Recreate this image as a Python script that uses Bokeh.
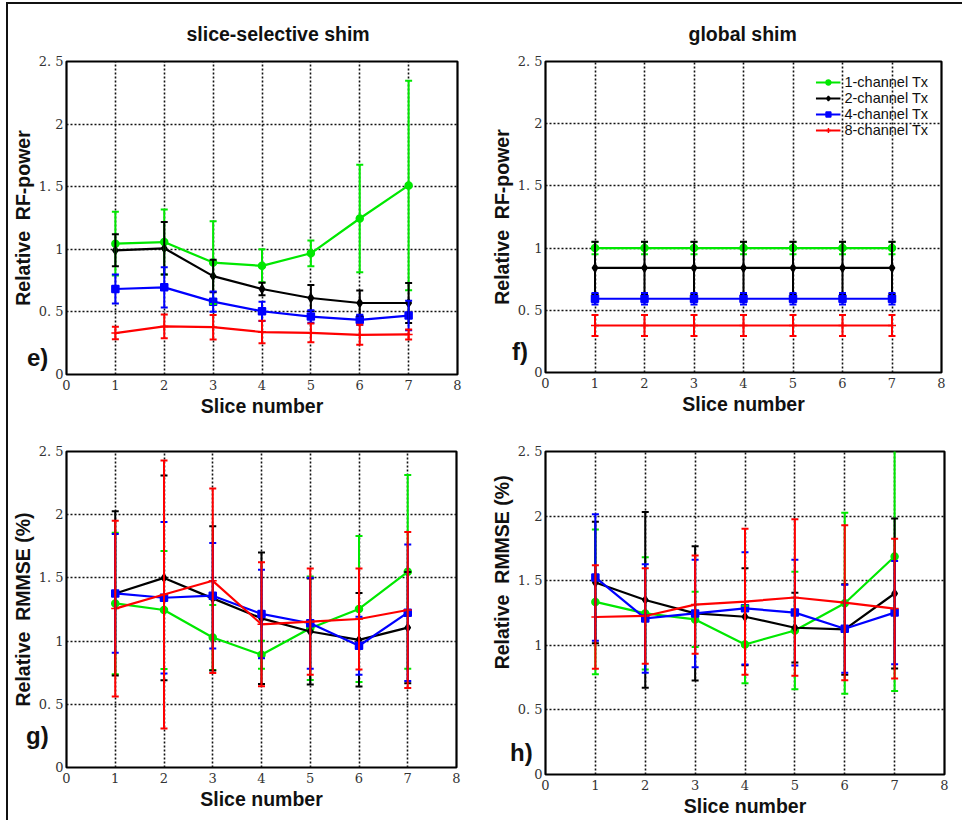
import numpy as np
from bokeh.plotting import figure
from bokeh.models import (ColumnDataSource, Whisker, TeeHead, FixedTicker,
                          Legend, LegendItem, Range1d, Div)
from bokeh.layouts import column, row
from bokeh.embed import file_html
from bokeh.resources import INLINE

# ---------------- data ----------------
slices = [1, 2, 3, 4, 5, 6, 7]
channels = ["1-channel Tx", "2-channel Tx", "4-channel Tx", "8-channel Tx"]
x_ticks = [0, 1, 2, 3, 4, 5, 6, 7, 8]
y_ticks = [0, 0.5, 1, 1.5, 2, 2.5]
y_tick_labels = ["0", "0. 5", "1", "1. 5", "2", "2. 5"]

# e) slice-selective shim, relative RF power
e_mean_1ch = [1.045, 1.058, 0.894, 0.868, 0.968, 1.246, 1.510]
e_err_1ch = [0.255, 0.260, 0.330, 0.132, 0.103, 0.430, 0.837]
e_mean_2ch = [0.992, 1.008, 0.786, 0.683, 0.611, 0.571, 0.571]
e_err_2ch = [0.128, 0.210, 0.130, 0.050, 0.103, 0.100, 0.160]
e_mean_4ch = [0.683, 0.696, 0.582, 0.505, 0.463, 0.437, 0.471]
e_err_4ch = [0.115, 0.160, 0.080, 0.077, 0.050, 0.040, 0.118]
e_mean_8ch = [0.331, 0.384, 0.378, 0.339, 0.333, 0.317, 0.320]
e_err_8ch = [0.050, 0.095, 0.098, 0.090, 0.075, 0.080, 0.040]

# f) global shim, relative RF power
f_mean_1ch = [1.0, 1.0, 1.0, 1.0, 1.0, 1.0, 1.0]
f_err_1ch = [0.05, 0.05, 0.05, 0.05, 0.05, 0.05, 0.05]
f_mean_2ch = [0.841, 0.841, 0.841, 0.841, 0.841, 0.841, 0.841]
f_err_2ch = [0.21, 0.21, 0.21, 0.21, 0.21, 0.21, 0.21]
f_mean_4ch = [0.593, 0.593, 0.593, 0.593, 0.593, 0.593, 0.593]
f_err_4ch = [0.047, 0.047, 0.047, 0.047, 0.047, 0.047, 0.047]
f_mean_8ch = [0.378, 0.378, 0.378, 0.378, 0.378, 0.378, 0.378]
f_err_8ch = [0.084, 0.084, 0.084, 0.084, 0.084, 0.084, 0.084]

# g) slice-selective shim, relative RMMSE
g_mean_1ch = [1.298, 1.246, 1.028, 0.892, 1.102, 1.254, 1.548]
g_err_1ch = [0.560, 0.467, 0.257, 0.110, 0.410, 0.578, 0.766]
g_mean_2ch = [1.377, 1.500, 1.338, 1.180, 1.076, 1.010, 1.107]
g_err_2ch = [0.650, 0.810, 0.570, 0.520, 0.420, 0.370, 0.440]
g_mean_4ch = [1.377, 1.343, 1.359, 1.215, 1.141, 0.963, 1.225]
g_err_4ch = [0.470, 0.600, 0.417, 0.350, 0.360, 0.230, 0.540]
g_mean_8ch = [1.257, 1.369, 1.477, 1.133, 1.154, 1.175, 1.246]
g_err_8ch = [0.695, 1.060, 0.730, 0.490, 0.420, 0.400, 0.617]

# h) global shim, relative RMMSE
h_mean_1ch = [1.336, 1.247, 1.200, 1.006, 1.115, 1.325, 1.687]
h_err_1ch = [0.560, 0.434, 0.214, 0.300, 0.455, 0.700, 1.040]
h_mean_2ch = [1.486, 1.351, 1.247, 1.221, 1.136, 1.123, 1.401]
h_err_2ch = [0.470, 0.680, 0.520, 0.375, 0.270, 0.350, 0.580]
h_mean_4ch = [1.525, 1.208, 1.247, 1.286, 1.253, 1.128, 1.253]
h_err_4ch = [0.490, 0.420, 0.416, 0.434, 0.410, 0.340, 0.400]
h_mean_8ch = [1.219, 1.227, 1.315, 1.338, 1.370, 1.330, 1.284]
h_err_8ch = [0.400, 0.370, 0.380, 0.565, 0.605, 0.600, 0.540]

panel_letters = ["e)", "f)", "g)", "h)"]
NB = "\u00a0"
label_rf = "Relative" + NB + " RF-power"
label_rmmse = "Relative" + NB + " RMMSE (%)"

# ---------------- style ----------------
COLORS = ["#00e800", "#000000", "#0000ff", "#ff0000"]
MARKERS = ["circle", "diamond", "square", "cross"]
MSIZE = [7, 8, 7, 8]
SANS = "Liberation Sans"
SERIF = "DejaVu Serif"


def make_panel(means, errs, frame_w, frame_h, borders, title, title_offset,
               ylabel, legend=False):
    bl, br, bt, bb = borders
    p = figure(frame_width=frame_w, frame_height=frame_h,
               min_border_left=bl, min_border_right=br,
               min_border_top=bt, min_border_bottom=bb,
               x_range=Range1d(0, 8), y_range=Range1d(0, 2.5),
               output_backend="svg", toolbar_location=None,
               title=title)
    p.background_fill_color = "white"
    p.border_fill_color = "white"
    p.outline_line_color = "black"
    p.outline_line_width = 2.2
    if title:
        p.title.text_font = SANS
        p.title.text_font_size = "19.5px"
        p.title.text_font_style = "bold"
        p.title.align = "left"
        p.title.offset = title_offset
        p.title.standoff = 33
        p.title.text_color = "#111111"

    for ax in (p.xaxis[0], p.yaxis[0]):
        ax.axis_line_color = None
        ax.major_tick_line_color = None
        ax.minor_tick_line_color = None
        ax.major_tick_out = 0
        ax.major_tick_in = 0
        ax.minor_tick_out = 0
        ax.minor_tick_in = 0
        ax.major_label_text_font = SERIF
        ax.major_label_text_font_size = "13px"
        ax.major_label_text_color = "#333333"
        ax.axis_label_text_font = SANS
        ax.axis_label_text_font_size = "19.5px"
        ax.axis_label_text_font_style = "bold"
        ax.axis_label_text_color = "#111111"
    p.xaxis.ticker = FixedTicker(ticks=x_ticks)
    p.yaxis.ticker = FixedTicker(ticks=y_ticks)
    p.yaxis.major_label_overrides = {t: s for t, s in zip(y_ticks, y_tick_labels)}
    p.xaxis.major_label_standoff = 5
    p.yaxis.major_label_standoff = 3
    p.xaxis.axis_label = "Slice number"
    p.xaxis.axis_label_standoff = 2
    p.yaxis.axis_label = ylabel
    p.yaxis.axis_label_standoff = 2

    p.xgrid.ticker = FixedTicker(ticks=x_ticks[1:-1])
    p.ygrid.ticker = FixedTicker(ticks=y_ticks[1:-1])
    for g in (p.xgrid[0], p.ygrid[0]):
        g.grid_line_color = "#111111"
        g.grid_line_width = 1.6
        g.grid_line_dash = "2 2"
        g.grid_line_alpha = 1.0

    items = []
    for k in range(4):
        m = means[k]
        e = errs[k]
        src = ColumnDataSource(dict(
            x=slices, y=m,
            upper=[a + b for a, b in zip(m, e)],
            lower=[a - b for a, b in zip(m, e)]))
        c = COLORS[k]
        w = Whisker(base="x", upper="upper", lower="lower", source=src,
                    line_color=c, line_width=2,
                    upper_head=TeeHead(size=7, line_color=c, line_width=2),
                    lower_head=TeeHead(size=7, line_color=c, line_width=2))
        w.level = "glyph"
        p.add_layout(w)
        lr = p.line("x", "y", source=src, line_color=c, line_width=2.2)
        sr = p.scatter("x", "y", source=src, marker=MARKERS[k], size=MSIZE[k],
                       fill_color=c, line_color=c, line_width=1.5)
        items.append(LegendItem(label=channels[k], renderers=[lr, sr]))

    if legend:
        lg = Legend(items=items, location="top_right")
        lg.background_fill_alpha = 0
        lg.border_line_alpha = 0
        lg.label_text_font = SANS
        lg.label_text_font_size = "14.5px"
        lg.label_text_line_height = 0.85
        lg.label_text_color = "#111111"
        lg.label_height = 12
        lg.glyph_height = 12
        lg.glyph_width = 25
        lg.label_standoff = 4
        lg.spacing = 0
        lg.padding = 2
        lg.margin = 11
        p.add_layout(lg)
    return p


pe = make_panel([e_mean_1ch, e_mean_2ch, e_mean_4ch, e_mean_8ch],
                [e_err_1ch, e_err_2ch, e_err_4ch, e_err_8ch],
                391, 313, (56, 28, 57, 46), "slice-selective shim", 120,
                label_rf)
pf = make_panel([f_mean_1ch, f_mean_2ch, f_mean_4ch, f_mean_8ch],
                [f_err_1ch, f_err_2ch, f_err_4ch, f_err_8ch],
                396, 311, (60, 21, 57, 48), "global shim", 143,
                label_rf, legend=True)
pg = make_panel([g_mean_1ch, g_mean_2ch, g_mean_4ch, g_mean_8ch],
                [g_err_1ch, g_err_2ch, g_err_4ch, g_err_8ch],
                390, 316, (57, 28, 31, 53), None, 0,
                label_rmmse)
ph = make_panel([h_mean_1ch, h_mean_2ch, h_mean_4ch, h_mean_8ch],
                [h_err_1ch, h_err_2ch, h_err_4ch, h_err_8ch],
                399, 323, (61, 17, 31, 46), None, 0,
                NB * 15 + label_rmmse)


def letter_div(text, left, top):
    return Div(text=text, width=30, height=30,
               styles={"position": "absolute", "left": f"{left}px", "top": f"{top}px",
                       "font-family": SANS, "font-weight": "bold",
                       "font-size": "24px", "color": "#111111",
                       "line-height": "normal", "z-index": "10"})


letters = [letter_div(panel_letters[0], 14, 335),
           letter_div(panel_letters[1], 499, 329),
           letter_div(panel_letters[2], 13, 713),
           letter_div(panel_letters[3], 497, 730)]

layout = column(row(pe, pf), row(pg, ph), *letters,
                styles={"border-left": "2px solid #111111",
                        "border-top": "2px solid #111111",
                        "margin-left": "6px", "margin-top": "2px"})

with open("out.html", "w") as fh:
    fh.write(file_html(layout, INLINE))
